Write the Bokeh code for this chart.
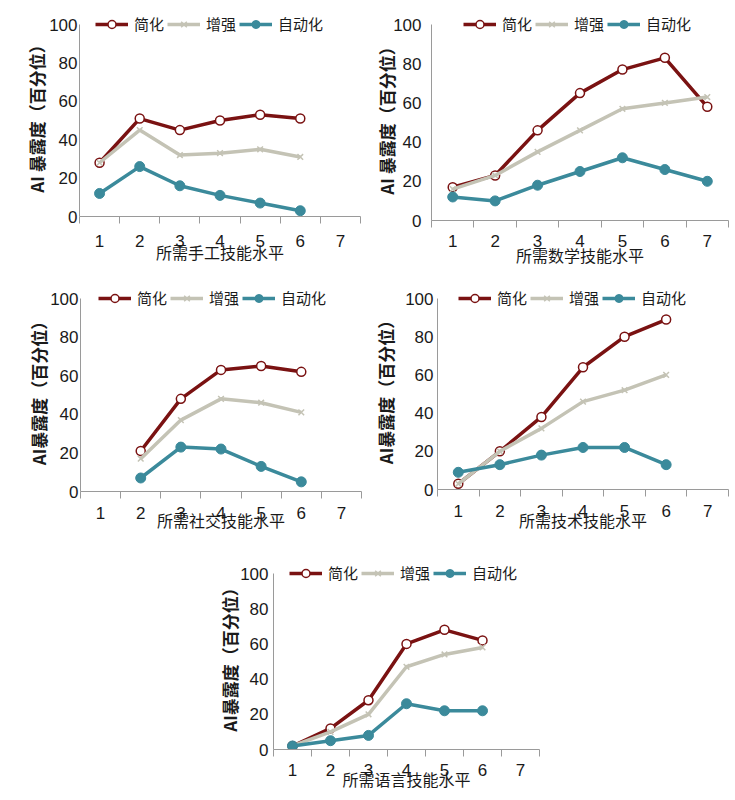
from bokeh.plotting import figure
from bokeh.layouts import column, row
from bokeh.models import FixedTicker, Legend, LegendItem, Spacer, Range1d
from bokeh.embed import file_html
from bokeh.resources import INLINE

# ---------------- data ----------------
levels = [1, 2, 3, 4, 5, 6, 7]
series_names = ["简化", "增强", "自动化"]

manual_x = [1, 2, 3, 4, 5, 6]
manual_simplify = [28, 51, 45, 50, 53, 51]
manual_augment = [28, 45, 32, 33, 35, 31]
manual_automate = [12, 26, 16, 11, 7, 3]

math_x = [1, 2, 3, 4, 5, 6, 7]
math_simplify = [17, 23, 46, 65, 77, 83, 58]
math_augment = [16, 23, 35, 46, 57, 60, 63]
math_automate = [12, 10, 18, 25, 32, 26, 20]

social_x = [2, 3, 4, 5, 6]
social_simplify = [21, 48, 63, 65, 62]
social_augment = [17, 37, 48, 46, 41]
social_automate = [7, 23, 22, 13, 5]

tech_x = [1, 2, 3, 4, 5, 6]
tech_simplify = [3, 20, 38, 64, 80, 89]
tech_augment = [3, 20, 32, 46, 52, 60]
tech_automate = [9, 13, 18, 22, 22, 13]

lang_x = [1, 2, 3, 4, 5, 6]
lang_simplify = [2, 12, 28, 60, 68, 62]
lang_augment = [2, 10, 20, 47, 54, 58]
lang_automate = [2, 5, 8, 26, 22, 22]

y_ticks = [0, 20, 40, 60, 80, 100]

RED = "#7a1212"
GRAY = "#c4c3b5"
TEAL = "#3b8a9b"
AXIS = "#9a9a9a"
TXT = "#1a1a1a"
CJK = "Noto Sans CJK SC"
NUM = "Liberation Sans"
EXTRA = 12  # px of headroom above the 100 line for the legend


def make_panel(xs, s1, s2, s3, xlabel, ylabel, fw, fh, bl, bt, bb, br,
               ystand, ylab_stand, xstand, xlab_stand, leg_dx):
    fh_full = fh + EXTRA
    y_end = 100.0 * fh_full / fh
    p = figure(output_backend="svg", toolbar_location=None,
               frame_width=fw, frame_height=fh_full,
               min_border_left=bl, min_border_top=bt - EXTRA,
               min_border_bottom=bb, min_border_right=br,
               x_range=Range1d(0.5, 7.5), y_range=Range1d(0, y_end))
    p.outline_line_color = None
    p.grid.visible = False
    p.background_fill_color = "white"
    p.border_fill_color = "white"

    r1l = p.line(xs, s1, line_color=RED, line_width=3.5)
    r1m = p.scatter(xs, s1, marker="circle", size=9, fill_color="white",
                    line_color=RED, line_width=1.5)
    r2l = p.line(xs, s2, line_color=GRAY, line_width=3.5)
    r2m = p.scatter(xs, s2, marker="x", size=8, line_color=GRAY, line_width=1.5)
    r3l = p.line(xs, s3, line_color=TEAL, line_width=3.5)
    r3m = p.scatter(xs, s3, marker="circle", size=10, fill_color=TEAL,
                    line_color=TEAL)

    # x axis: labels at levels, tick marks at category boundaries
    xa = p.xaxis[0]
    xa.ticker = FixedTicker(ticks=levels,
                            minor_ticks=[v - 0.5 for v in levels] + [7.5])
    xa.axis_line_color = AXIS
    xa.major_tick_line_color = None
    xa.major_tick_out = 0
    xa.major_tick_in = 0
    xa.minor_tick_line_color = AXIS
    xa.minor_tick_out = 7
    xa.minor_tick_in = 0
    xa.major_label_standoff = xstand
    xa.major_label_text_font = NUM
    xa.major_label_text_font_size = "17px"
    xa.major_label_text_color = TXT
    xa.axis_label = xlabel
    xa.axis_label_text_font = CJK
    xa.axis_label_text_font_size = "16px"
    xa.axis_label_text_font_style = "normal"
    xa.axis_label_text_color = TXT
    xa.axis_label_standoff = xlab_stand

    ya = p.yaxis[0]
    ya.ticker = FixedTicker(ticks=y_ticks)
    ya.bounds = (0, 100)
    ya.axis_line_color = AXIS
    ya.major_tick_line_color = None
    ya.major_tick_out = 0
    ya.major_tick_in = 0
    ya.minor_tick_line_color = None
    ya.major_label_standoff = ystand
    ya.major_label_text_font = NUM
    ya.major_label_text_font_size = "17px"
    ya.major_label_text_color = TXT
    ya.axis_label = ylabel
    ya.axis_label_text_font = CJK
    ya.axis_label_text_font_size = "17px"
    ya.axis_label_text_font_style = "bold"
    ya.axis_label_text_color = TXT
    ya.axis_label_standoff = ylab_stand

    legend = Legend(items=[
        LegendItem(label=series_names[0], renderers=[r1l, r1m]),
        LegendItem(label=series_names[1], renderers=[r2l, r2m]),
        LegendItem(label=series_names[2], renderers=[r3l, r3m]),
    ], orientation="horizontal", location=(leg_dx, fh - 10),
        glyph_width=33, glyph_height=20, label_standoff=6, spacing=3,
        padding=0, margin=0, border_line_color=None,
        background_fill_alpha=0, label_text_font=CJK,
        label_text_font_size="15px", label_text_color=TXT,
        label_height=20)
    p.add_layout(legend, "center")
    return p


p1 = make_panel(manual_x, manual_simplify, manual_augment, manual_automate,
                "所需手工技能水平", "AI 暴露度（百分位）",
                fw=281, fh=192, bl=79, bt=24, bb=61, br=2,
                ystand=2, ylab_stand=-3, xstand=11, xlab_stand=-10, leg_dx=16)
p2 = make_panel(math_x, math_simplify, math_augment, math_automate,
                "所需数学技能水平", "AI 暴露度（百分位）",
                fw=297, fh=196, bl=69, bt=23, bb=58, br=5,
                ystand=10, ylab_stand=-9, xstand=7, xlab_stand=-7, leg_dx=32)
p3 = make_panel(social_x, social_simplify, social_augment, social_automate,
                "所需社交技能水平", "AI暴露度（百分位）",
                fw=281, fh=193, bl=80, bt=16, bb=56, br=1,
                ystand=2, ylab_stand=-4, xstand=8, xlab_stand=-14, leg_dx=18)
p4 = make_panel(tech_x, tech_simplify, tech_augment, tech_automate,
                "所需技术技能水平", "AI暴露度（百分位）",
                fw=291, fh=191, bl=75, bt=21, bb=53, br=5,
                ystand=4, ylab_stand=4, xstand=8, xlab_stand=-12, leg_dx=21)
p5 = make_panel(lang_x, lang_simplify, lang_augment, lang_automate,
                "所需语言技能水平", "AI暴露度（百分位）",
                fw=266, fh=176, bl=73, bt=31, bb=52, br=5,
                ystand=5, ylab_stand=-5, xstand=7, xlab_stand=-12, leg_dx=16)

layout = column(
    row(p1, p2, spacing=0),
    row(p3, p4, spacing=0),
    row(Spacer(width=200, height=10), p5, spacing=0),
    spacing=0,
)

open("out.html", "w").write(file_html(layout, INLINE))
